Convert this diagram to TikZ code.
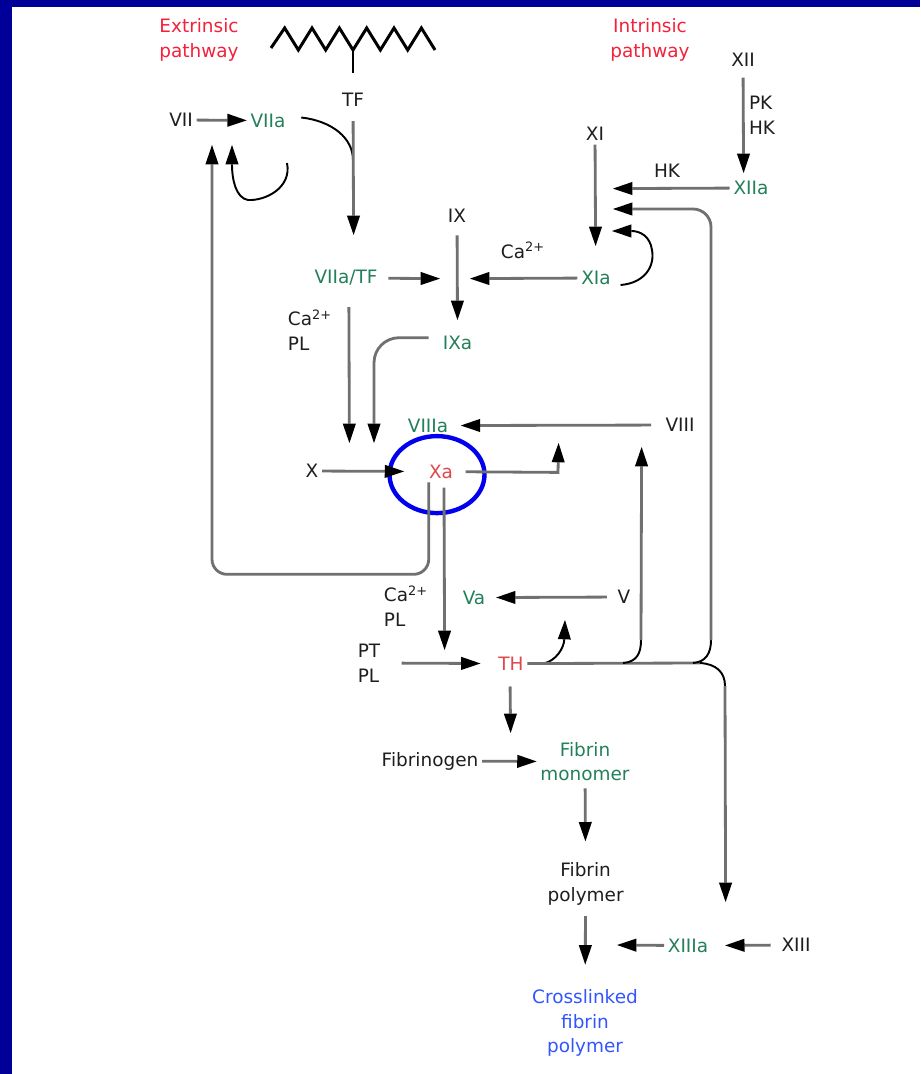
\documentclass[tikz,border=0pt]{standalone}
\usepackage{fontspec}
\setmainfont{DejaVu Sans}
\usepackage{xcolor}
\usepackage{tikz}
\usetikzlibrary{arrows.meta}
\definecolor{frame}{HTML}{000099}
\definecolor{pathred}{HTML}{F5203A}
\definecolor{activered}{HTML}{E0474C}
\definecolor{factorgreen}{HTML}{23805A}
\definecolor{endblue}{HTML}{3355FF}
\definecolor{ringblue}{HTML}{0000EE}
\definecolor{wire}{HTML}{707070}
\definecolor{ink}{HTML}{1E1E1E}

\begin{document}
\begin{tikzpicture}[
  x=0.02cm, y=-0.02cm,
  factor/.style={inner sep=2pt, align=center, text=ink, font=\fontsize{10.5}{14}\selectfont},
  active/.style={factor, text=factorgreen},
  hot/.style={factor, text=activered},
  heading/.style={factor, text=pathred},
  arrow/.style={draw=wire, line width=1.6pt, -{Triangle[length=11pt, width=7.5pt, line width=0pt, fill=black]}},
  link/.style={draw=wire, line width=1.6pt},
  hop/.style={draw=black, line width=1.1pt},
  hoparrow/.style={hop, -{Triangle[length=11pt, width=7.5pt, line width=0pt, fill=black]}}
]
  \useasboundingbox (0,0) rectangle (920,1074);
  \fill[white] (0,0) rectangle (920,1074);
  \fill[frame] (0,0) rectangle (12,1074);
  \fill[frame] (0,0) rectangle (920,7);

  % membrane with tissue factor
  \draw[black, line width=1.7pt, line join=miter] (271,48)
    \foreach \k in {1,...,12} { -- ({271+13.67*\k}, {50-22*mod(\k,2)}) };
  \draw[black, line width=1.7pt] (353,50) -- (353,73);

  % labels
  \node[heading] (extr) at (199,40) {Extrinsic\\pathway};
  \node[heading] (intr) at (650,40) {Intrinsic\\pathway};
  \node[factor] (TF) at (353,100) {TF};
  \node[factor] (VII) at (181,120) {VII};
  \node[active] (VIIa) at (268,120.5) {VIIa};
  \node[factor] (XII) at (743,60) {XII};
  \node[factor, align=left] (PKHK) at (762,115) {PK\\HK};
  \node[factor] (XI) at (595,134) {XI};
  \node[factor] (HK) at (667,171) {HK};
  \node[active] (XIIa) at (751,188) {XIIa};
  \node[factor] (IX) at (457,216) {IX};
  \node[factor] (CaXIa) at (523,250) {Ca\textsuperscript{2+}};
  \node[active] (VIIaTF) at (346,278) {VIIa/TF};
  \node[active] (XIa) at (596,278) {XIa};
  \node[factor, align=left] (CaPLX) at (310,330) {Ca\textsuperscript{2+}\\PL};
  \node[active] (IXa) at (457.6,343) {IXa};
  \node[active] (VIIIa) at (428,425.6) {VIIIa};
  \node[factor] (VIII) at (680,425) {VIII};
  \node[factor] (X) at (312,471) {X};
  \node[hot] (Xa) at (441,471.6) {Xa};
  \node[factor, align=left] (CaPLTH) at (406,606) {Ca\textsuperscript{2+}\\PL};
  \node[active] (Va) at (474,597.6) {Va};
  \node[factor] (V) at (624,597) {V};
  \node[factor, align=left] (PTPL) at (369,663) {PT\\PL};
  \node[hot] (TH) at (511,663.6) {TH};
  \node[factor] (Fgen) at (430,761) {Fibrinogen};
  \node[active] (Fmono) at (585,761.6) {Fibrin\\monomer};
  \node[factor] (Fpoly) at (585.6,884) {Fibrin\\polymer};
  \node[active] (XIIIa) at (688,945.6) {XIIIa};
  \node[factor] (XIII) at (796,945) {XIII};
  \node[factor, text=endblue] (Fcross) at (585,1023) {Crosslinked\\fibrin\\polymer};

  \draw[ringblue, line width=2.5pt] ([shift={(-4,3)}]Xa.center) ellipse [x radius=0.95cm, y radius=0.77cm];

  % free ends of connectors
  \coordinate (tfend) at (353.6,235);
  \coordinate (tfjoin) at (353,160);
  \coordinate (VIIloop) at (287,163);
  \coordinate (VIIaback) at (232,145);
  \coordinate (VIIin) at (212,145);
  \coordinate (XIIain) at (743.6,173);
  \coordinate (IXleft) at (440,278.6);
  \coordinate (IXright) at (470,278.6);
  \coordinate (XIend) at (595.6,246);
  \coordinate (XItop) at (613,188.6);
  \coordinate (XImid) at (613,209);
  \coordinate (XIlow) at (612,231);
  \coordinate (Xleft) at (349.4,443);
  \coordinate (Xright) at (374,443);
  \coordinate (VIIIaturn) at (558,472.4);
  \coordinate (VIIIaup) at (558.6,443);
  \coordinate (VIIIup) at (641.6,447);
  \coordinate (THin) at (444.6,650);
  \coordinate (Vaup) at (565,620);
  \coordinate (THhopA) at (623,663);
  \coordinate (THhopB) at (693,663);
  \coordinate (THhopC) at (700,663);
  \coordinate (midrise) at (641,640);
  \coordinate (rightrise) at (711,640);
  \coordinate (downturn) at (725,686);
  \coordinate (Fmonoin) at (510.6,733);
  \coordinate (XIIIin) at (725.6,902);
  \coordinate (Fcrossin) at (617,945);

  % extrinsic side
  \draw[arrow] (VII) -- (VIIa);
  \draw[hop] ([shift={(12,-3)}]VIIa.east) .. controls (332,121) and (353,138) .. (tfjoin);
  \draw[arrow, shorten <=6pt] (TF) -- (tfend);
  \draw[hoparrow] (VIIloop) .. controls (292,188) and (265,201) .. (248,200) .. controls (236,198) and (232,180) .. (VIIaback);
  \draw[arrow, rounded corners=0.3cm] ([xshift=-7pt]Xa.south) -- ++(0,92) -| (VIIin);
  \draw[arrow, shorten <=4pt] (VIIaTF) -- (IXleft);
  \draw[arrow, shorten <=10pt] ([xshift=1.6pt]VIIaTF.south) -- (Xleft);

  % intrinsic side
  \draw[arrow, shorten <=4pt] (XII) -- (XIIain);
  \draw[arrow] (XIIa) -- (XItop);
  \draw[arrow] (XI) -- (XIend);
  \draw[hoparrow] ([shift={(6,7)}]XIa.east) .. controls (645,283) and (655,266) .. (652,250) .. controls (650,236) and (640,231) .. (XIlow);
  \draw[arrow] (XIa) -- (IXright);
  \draw[arrow, shorten <=5pt, shorten >=7pt] (IX) -- (IXa);
  \draw[arrow, rounded corners=0.5cm, shorten <=6pt] ([yshift=3pt]IXa.west) -| (Xright);

  % common pathway
  \draw[arrow, shorten <=6pt, shorten >=5pt] (VIII) -- (VIIIa);
  \draw[arrow, shorten >=12pt] (X) -- (Xa);
  \draw[arrow, shorten <=5pt] (Xa) -- (VIIIaturn) -- (VIIIaup);
  \draw[arrow, shorten <=3pt] ([xshift=1.7pt]Xa.south) -- (THin);
  \draw[arrow, shorten <=4pt, shorten >=4pt] (V) -- (Va);
  \draw[arrow, shorten <=10pt, shorten >=8pt] (PTPL) -- (TH);
  \draw[hoparrow] ([xshift=9pt]TH.east) .. controls (556,661) and (564,648) .. (Vaup);
  \draw[link] (TH) -- (THhopC);
  \draw[hop] (THhopA) .. controls (637,662) and (641,653) .. (midrise);
  \draw[arrow] (midrise) -- (VIIIup);
  \draw[hop] (THhopB) .. controls (706,662) and (711,653) .. (rightrise);
  \draw[arrow, rounded corners=0.36cm] (rightrise) |- (XImid);
  \draw[hop] (THhopC) .. controls (716,664) and (725,672) .. (downturn);
  \draw[arrow] (downturn) -- (XIIIin);

  % fibrin formation
  \draw[arrow, shorten <=7pt] ([xshift=-0.6pt]TH.south) -- (Fmonoin);
  \draw[arrow] (Fgen) -- (Fmono);
  \draw[arrow, shorten <=2pt, shorten >=10pt] (Fmono) -- (Fpoly);
  \draw[arrow, shorten <=4pt, shorten >=12pt] (Fpoly) -- (Fcross);
  \draw[arrow, shorten <=4pt, shorten >=7.5pt] (XIII) -- (XIIIa);
  \draw[arrow] (XIIIa) -- (Fcrossin);
\end{tikzpicture}
\end{document}
